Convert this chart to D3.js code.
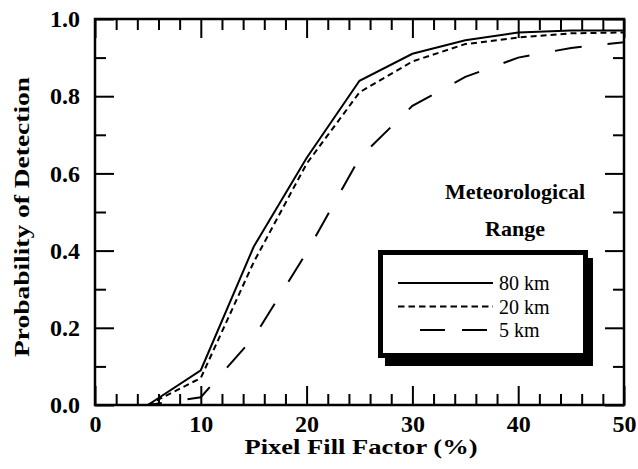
<!DOCTYPE html>
<html>
<head>
<meta charset="utf-8">
<script src="https://cdn.jsdelivr.net/npm/d3@7"></script>
<style>
  body { margin: 0; background: #fff; }
  svg { display: block; }
</style>
</head>
<body>
<div id="chart"></div>
<script>
// Pixel fill factor (%) sampled every 5
var fillFactor = [5, 10, 15, 20, 25, 30, 35, 40, 45, 50];

// Probability of detection for each meteorological range
var pd80km = [0, 0.09, 0.41, 0.64, 0.84, 0.91, 0.945, 0.965, 0.97, 0.97];
var pd20km = [0, 0.07, 0.37, 0.625, 0.81, 0.89, 0.935, 0.952, 0.963, 0.965];
var pd5km  = [0, 0.02, 0.175, 0.395, 0.64, 0.775, 0.85, 0.90, 0.925, 0.94];

var rangeLabels = ["80 km", "20 km", "5 km"];

var xMajor = [0, 10, 20, 30, 40, 50];
var yMajor = [0, 0.2, 0.4, 0.6, 0.8, 1.0];

var serif = "'Liberation Serif', 'Times New Roman', Times, serif";

var svgWidth = 638;
var svgHeight = 469;

var margin = { top: 19, right: 14, bottom: 64, left: 95 };
var width = svgWidth - margin.left - margin.right;
var height = svgHeight - margin.top - margin.bottom;

var svg = d3.select("#chart")
  .append("svg")
  .attr("width", svgWidth)
  .attr("height", svgHeight);

var chartGroup = svg.append("g")
  .attr("transform", `translate(${margin.left}, ${margin.top})`);

var xScale = d3.scaleLinear().domain([0, 50]).range([0, width]);
var yScale = d3.scaleLinear().domain([0, 1]).range([height, 0]);

// minor ticks (every 2 on x, every 0.1 on y)
var xMinor = d3.range(0, 51, 2).filter(d => d % 10 !== 0);
var yMinor = [0.1, 0.3, 0.5, 0.7, 0.9];

function styleAxis(g) {
  g.attr("font-family", serif);
  g.select(".domain").remove();
  g.selectAll("line").attr("stroke", "#000").attr("stroke-width", 2);
  g.selectAll("text")
    .attr("fill", "#000")
    .style("font-family", serif)
    .style("font-size", "24px")
    .style("font-weight", "bold");
}

// bottom
chartGroup.append("g")
  .attr("transform", `translate(0, ${height})`)
  .call(d3.axisBottom(xScale).tickValues(xMajor).tickSize(-19).tickPadding(10).tickFormat(d3.format("d")))
  .call(styleAxis);
chartGroup.append("g")
  .attr("transform", `translate(0, ${height})`)
  .call(d3.axisBottom(xScale).tickValues(xMinor).tickSize(-11).tickFormat(""))
  .call(styleAxis);

// top
chartGroup.append("g")
  .call(d3.axisTop(xScale).tickValues(xMajor).tickSize(-19).tickFormat(""))
  .call(styleAxis);
chartGroup.append("g")
  .call(d3.axisTop(xScale).tickValues(xMinor).tickSize(-11).tickFormat(""))
  .call(styleAxis);

// left
chartGroup.append("g")
  .call(d3.axisLeft(yScale).tickValues(yMajor).tickSize(-19).tickPadding(15).tickFormat(d3.format(".1f")))
  .call(styleAxis);
chartGroup.append("g")
  .call(d3.axisLeft(yScale).tickValues(yMinor).tickSize(-11).tickFormat(""))
  .call(styleAxis);

// right
chartGroup.append("g")
  .attr("transform", `translate(${width}, 0)`)
  .call(d3.axisRight(yScale).tickValues(yMajor).tickSize(-19).tickFormat(""))
  .call(styleAxis);
chartGroup.append("g")
  .attr("transform", `translate(${width}, 0)`)
  .call(d3.axisRight(yScale).tickValues(yMinor).tickSize(-11).tickFormat(""))
  .call(styleAxis);

// frame
chartGroup.append("rect")
  .attr("x", 0)
  .attr("y", 0)
  .attr("width", width)
  .attr("height", height)
  .attr("fill", "none")
  .attr("stroke", "#000")
  .attr("stroke-width", 2.5);

// curves
var series = [
  { values: pd80km, dash: null, offset: 0 },
  { values: pd20km, dash: "6,4", offset: 0 },
  { values: pd5km, dash: "27,26", offset: 13 }
];

var line = d3.line()
  .x(d => xScale(d[0]))
  .y(d => yScale(d[1]));

series.forEach(function(s) {
  chartGroup.append("path")
    .datum(fillFactor.map((f, i) => [f, s.values[i]]))
    .attr("d", line)
    .attr("fill", "none")
    .attr("stroke", "#000")
    .attr("stroke-width", 2)
    .attr("stroke-dasharray", s.dash)
    .attr("stroke-dashoffset", s.offset);
});

// axis titles
svg.append("text")
  .attr("x", 361)
  .attr("y", 454)
  .attr("text-anchor", "middle")
  .attr("textLength", 233)
  .attr("lengthAdjust", "spacingAndGlyphs")
  .style("font-family", serif)
  .style("font-size", "21px")
  .style("font-weight", "bold")
  .text("Pixel Fill Factor (%)");

svg.append("text")
  .attr("transform", "translate(29, 217) rotate(-90)")
  .attr("text-anchor", "middle")
  .attr("textLength", 280)
  .attr("lengthAdjust", "spacingAndGlyphs")
  .style("font-family", serif)
  .style("font-size", "21px")
  .style("font-weight", "bold")
  .text("Probability of Detection");

// legend title
["Meteorological", "Range"].forEach(function(t, i) {
  svg.append("text")
    .attr("x", 515)
    .attr("y", 199 + i * 37)
    .attr("text-anchor", "middle")
    .style("font-family", serif)
    .style("font-size", "22px")
    .style("font-weight", "bold")
    .text(t);
});

// legend box with drop shadow
var legend = svg.append("g");
legend.append("rect")
  .attr("x", 385).attr("y", 258)
  .attr("width", 208).attr("height", 108)
  .attr("fill", "#000");
legend.append("rect")
  .attr("x", 380.5).attr("y", 252.5)
  .attr("width", 205).attr("height", 103)
  .attr("fill", "#fff")
  .attr("stroke", "#000")
  .attr("stroke-width", 5);

var legendRows = [
  { label: rangeLabels[0], dash: null, x1: 398, x2: 493, y: 283 },
  { label: rangeLabels[1], dash: "6.5,4", x1: 398, x2: 493, y: 306.5 },
  { label: rangeLabels[2], dash: "25,17", x1: 420, x2: 487, y: 330 }
];

legendRows.forEach(function(r) {
  legend.append("line")
    .attr("x1", r.x1).attr("x2", r.x2)
    .attr("y1", r.y).attr("y2", r.y)
    .attr("stroke", "#000")
    .attr("stroke-width", 2)
    .attr("stroke-dasharray", r.dash);
  legend.append("text")
    .attr("x", 499)
    .attr("y", r.y + 7)
    .style("font-family", serif)
    .style("font-size", "20px")
    .text(r.label);
});
</script>
</body>
</html>
